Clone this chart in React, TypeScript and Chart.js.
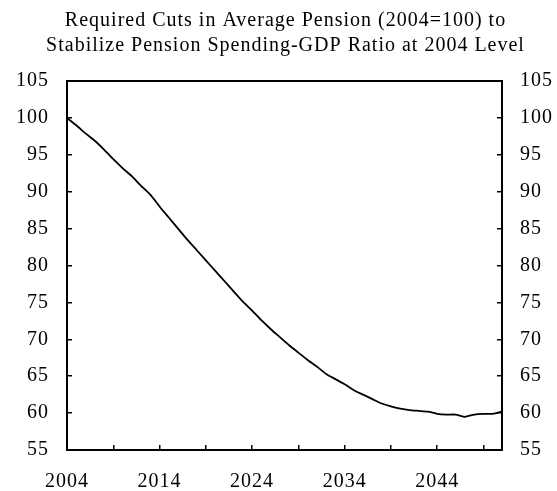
import React, { useEffect, useRef } from "react";
import { Chart, registerables } from "chart.js";

Chart.register(...registerables);

const years = [
  2004, 2005, 2006, 2007, 2008, 2009, 2010, 2011, 2012, 2013,
  2014, 2015, 2016, 2017, 2018, 2019, 2020, 2021, 2022, 2023,
  2024, 2025, 2026, 2027, 2028, 2029, 2030, 2031, 2032, 2033,
  2034, 2035, 2036, 2037, 2038, 2039, 2040, 2041, 2042, 2043,
  2044, 2045, 2046, 2047, 2048, 2049, 2050, 2051,
];

const pensionIndex = [
  100.0, 99.0, 97.9, 96.9, 95.7, 94.4, 93.2, 92.1, 90.8, 89.6,
  88.0, 86.5, 85.0, 83.5, 82.1, 80.7, 79.3, 77.9, 76.5, 75.1,
  73.9, 72.6, 71.4, 70.3, 69.2, 68.2, 67.2, 66.3, 65.3, 64.6,
  63.9, 63.1, 62.5, 61.9, 61.3, 60.9, 60.6, 60.4, 60.3, 60.2,
  59.9, 59.8, 59.8, 59.5, 59.8, 59.9, 59.9, 60.2,
];

const xTickYears = [2004, 2009, 2014, 2019, 2024, 2029, 2034, 2039, 2044, 2049];
const xLabelYears = [2004, 2014, 2024, 2034, 2044];
const yMin = 55;
const yMax = 105;
const yStep = 5;
const titleLines = [
  "Required Cuts in Average Pension (2004=100) to",
  "Stabilize Pension Spending-GDP Ratio at 2004 Level",
];

const FONT = "'Liberation Serif', 'Times New Roman', serif";

export default function App() {
  const canvasRef = useRef<HTMLCanvasElement | null>(null);

  useEffect(() => {
    const canvas = canvasRef.current;
    if (!canvas) return;

    const spacingPlugin = {
      id: "spacing",
      beforeLayout(chart: any) {
        chart.ctx.letterSpacing = "1px";
      },
      beforeDraw(chart: any) {
        chart.ctx.letterSpacing = "1px";
      },
      afterDraw(chart: any) {
        const { ctx, chartArea } = chart;
        ctx.save();
        ctx.strokeStyle = "#000";
        ctx.lineWidth = 2;
        ctx.beginPath();
        ctx.moveTo(chartArea.left - 1, chartArea.top);
        ctx.lineTo(chartArea.right + 1, chartArea.top);
        ctx.stroke();
        ctx.restore();
      },
    };

    const yAxis = (position: "left" | "right", width: number) => ({
      type: "linear" as const,
      position,
      min: yMin,
      max: yMax,
      ticks: {
        stepSize: yStep,
        color: "#000",
        padding: 23,
        font: { family: FONT, size: 20 },
      },
      grid: {
        drawOnChartArea: false,
        drawTicks: true,
        tickLength: -5,
        color: "#000",
        lineWidth: 1.5,
      },
      border: { display: true, color: "#000", width: 2 },
      afterFit(scale: any) {
        scale.width = width;
      },
    });

    const chart = new Chart(canvas, {
      type: "line",
      data: {
        datasets: [
          {
            data: years.map((yr, i) => ({ x: yr, y: pensionIndex[i] })),
            borderColor: "#000",
            borderWidth: 1.8,
            pointRadius: 0,
            tension: 0.2,
            fill: false,
            yAxisID: "y",
          },
        ],
      },
      options: {
        animation: false,
        responsive: false,
        layout: { padding: { left: 14, right: 0, top: 0, bottom: 0 } },
        plugins: {
          legend: { display: false },
          tooltip: { enabled: false },
          title: {
            display: true,
            text: titleLines,
            color: "#000",
            font: { family: FONT, size: 20, weight: "normal", lineHeight: 1.25 },
            padding: { top: 8, bottom: 23 },
          },
        },
        scales: {
          x: {
            type: "linear",
            min: years[0],
            max: years[years.length - 1],
            afterBuildTicks(scale: any) {
              scale.ticks = xTickYears.map((v) => ({ value: v }));
            },
            ticks: {
              autoSkip: false,
              maxRotation: 0,
              color: "#000",
              padding: 25,
              font: { family: FONT, size: 20 },
              callback: (value: any) =>
                xLabelYears.includes(Number(value)) ? String(value) : "",
            },
            grid: {
              drawOnChartArea: false,
              drawTicks: true,
              tickLength: -5,
              color: "#000",
              lineWidth: 1.5,
            },
            border: { display: true, color: "#000", width: 2 },
            afterFit(scale: any) {
              scale.height = 41;
            },
          },
          y: yAxis("left", 53),
          y2: yAxis("right", 55),
        },
      },
      plugins: [spacingPlugin],
    });

    return () => chart.destroy();
  }, []);

  return (
    <div style={{ position: "absolute", left: 0, top: 0, width: 557, height: 491, background: "#fff" }}>
      <canvas ref={canvasRef} width={557} height={491} />
    </div>
  );
}
